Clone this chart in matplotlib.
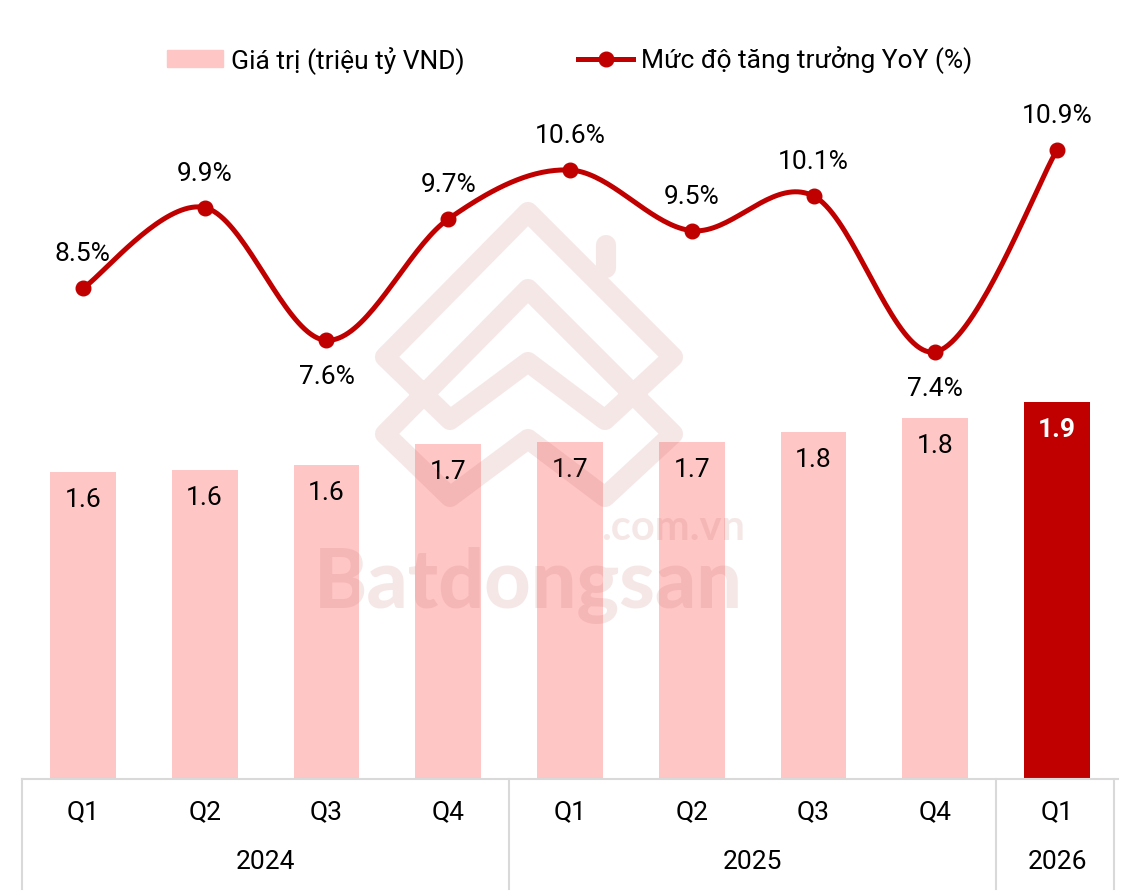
import matplotlib.pyplot as plt
import numpy as np
from matplotlib.lines import Line2D
from matplotlib.patches import Patch, PathPatch
from matplotlib.path import Path

plt.rcParams['font.family'] = ['Roboto', 'DejaVu Sans']

# --- data ---
quarters = ['Q1', 'Q2', 'Q3', 'Q4', 'Q1', 'Q2', 'Q3', 'Q4', 'Q1']
years = ['2024', '2025', '2026']
year_groups = [(0, 3), (4, 7), (8, 8)]
gia_tri = [1.58, 1.59, 1.61, 1.70, 1.71, 1.71, 1.75, 1.81, 1.88]
yoy = [8.5, 9.9, 7.6, 9.7, 10.55, 9.5, 10.1, 7.4, 10.9]
label_below = [False, False, True, False, False, False, False, True, False]

PINK = '#FEC6C5'
RED = '#C00000'
GRAY = '#D9D9D9'
FS = 19

W, H = 1124, 894
fig = plt.figure(figsize=(W / 100, H / 100), dpi=100)
ax = fig.add_axes([22 / W, 115 / H, 1096 / W, 684 / H])
ax.set_zorder(1)

x = np.arange(len(quarters))
colors = [PINK] * (len(x) - 1) + [RED]
ax.bar(x, gia_tri, width=0.54, color=colors, zorder=2)
ax.set_xlim(-0.5, len(x) - 0.5)
ax.set_ylim(0.274, 3.185)

for i, v in enumerate(gia_tri):
    last = i == len(x) - 1
    ax.annotate(f'{v:.1f}', (i, v), xytext=(0, -28), textcoords='offset pixels',
                ha='center', va='center', fontsize=FS,
                color='white' if last else 'black',
                fontweight='bold' if last else 'normal', zorder=5)

for s in ['top', 'right', 'left']:
    ax.spines[s].set_visible(False)
ax.spines['bottom'].set_color(GRAY)
ax.spines['bottom'].set_linewidth(1.5)
ax.set_yticks([])
ax.set_xticks([])

# multi-level category axis
tr = ax.get_xaxis_transform()
for i, q in enumerate(quarters):
    ax.annotate(q, (i, 0), xycoords=tr, xytext=(0, -33), textcoords='offset pixels',
                ha='center', va='center', fontsize=FS)
for yr, (a, b) in zip(years, year_groups):
    ax.annotate(yr, ((a + b) / 2, 0), xycoords=tr, xytext=(0, -83), textcoords='offset pixels',
                ha='center', va='center', fontsize=FS)
for sx in [-0.5, 3.5, 7.5, 8.47]:
    ax.plot([sx, sx], [0, -110 / 684], transform=tr, color=GRAY, lw=1.5, clip_on=False)

# --- watermark ---
ax_w = fig.add_axes([0, 0, 1, 1])
ax_w.set_zorder(2)
ax_w.patch.set_visible(False)
ax_w.set_xlim(0, W)
ax_w.set_ylim(H, 0)
ax_w.axis('off')
shape = [(385, 357), (528, 212), (673, 357), (605, 420), (528, 362), (450, 420)]
verts, codes = [], []
for dy in [0, 77]:
    pts = [(px, py + dy) for px, py in shape]
    verts += pts + [pts[0]]
    codes += [Path.MOVETO] + [Path.LINETO] * (len(pts) - 1) + [Path.CLOSEPOLY]
verts += [(606, 245), (606, 268)]
codes += [Path.MOVETO, Path.LINETO]
ax_w.add_patch(PathPatch(Path(verts, codes), fill=False, edgecolor='#C86464', lw=14.5,
                         alpha=0.15, joinstyle='round', capstyle='round'))
ax_w.text(528, 608, 'Batdongsan', ha='center', va='baseline', fontsize=58,
          fontweight='black', family='Lato', color='#C86464', alpha=0.15)
ax_w.text(745, 540, '.com.vn', ha='right', va='baseline', fontsize=30,
          fontweight='bold', family='Lato', color='#C86464', alpha=0.15)

# --- YoY line ---
ax2 = ax.twinx()
ax2.set_zorder(3)
ax2.patch.set_visible(False)
ax2.set_ylim(0, 11.85)
ax2.axis('off')

pts = np.column_stack([x, yoy]).astype(float)
curve = []
for i in range(len(pts) - 1):
    p0 = pts[max(i - 1, 0)]
    p1, p2 = pts[i], pts[i + 1]
    p3 = pts[min(i + 2, len(pts) - 1)]
    c1 = p1 + (p2 - p0) / 6
    c2 = p2 - (p3 - p1) / 6
    t = np.linspace(0, 1, 40)[:, None]
    seg = (1 - t) ** 3 * p1 + 3 * (1 - t) ** 2 * t * c1 + 3 * (1 - t) * t ** 2 * c2 + t ** 3 * p2
    curve.append(seg)
curve = np.vstack(curve)
ax2.plot(curve[:, 0], curve[:, 1], color=RED, lw=3.6, solid_capstyle='round')
ax2.plot(x, yoy, 'o', color=RED, ms=10.5)

for i, v in enumerate(yoy):
    off = -37 if label_below[i] else 34
    ax2.annotate(f'{v:.1f}%', (i, v), xytext=(0, off), textcoords='offset pixels',
                 ha='center', va='center', fontsize=FS)

# --- legend ---
handles = [Patch(color=PINK, label='Giá trị (triệu tỷ VND)'),
           Line2D([0], [0], color=RED, lw=3.6, marker='o', ms=10.5,
                  label='Mức độ tăng trưởng YoY (%)')]
fig.legend(handles=handles, loc='center', bbox_to_anchor=(570 / W, 1 - 60 / H), ncol=2,
           frameon=False, fontsize=FS, handlelength=2.1, handleheight=0.6,
           handletextpad=0.3, columnspacing=4.3)

fig.savefig('out.png', dpi=100)
